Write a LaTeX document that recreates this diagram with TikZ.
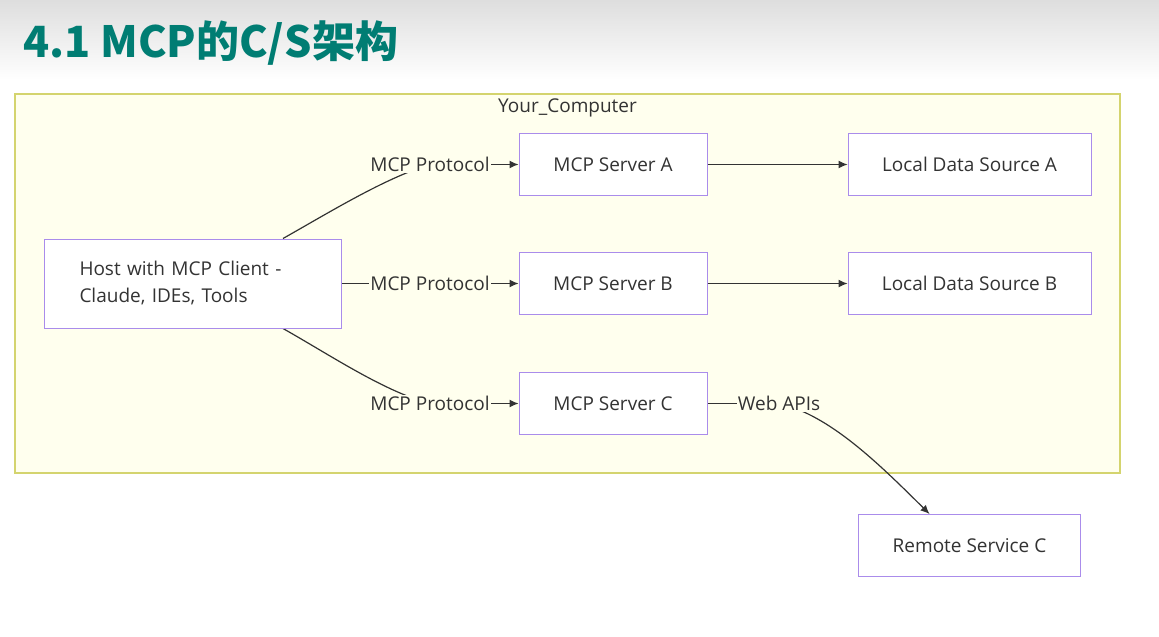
\documentclass[tikz,border=0pt]{standalone}
\usepackage{fontspec}
\setmainfont{Open Sans}
\newfontfamily\cjk{Noto Sans CJK SC}
\usetikzlibrary{positioning,calc,arrows.meta,backgrounds}

\definecolor{titleteal}{RGB}{0,125,115}
\definecolor{clusterfill}{RGB}{255,255,238}
\definecolor{clusterline}{RGB}{212,212,110}
\definecolor{boxline}{RGB}{170,140,235}
\definecolor{inkgray}{RGB}{51,51,51}

\tikzset{
  mbox/.style={draw=boxline, fill=white, line width=0.5pt, inner sep=0pt,
               minimum width=94pt, minimum height=31pt, text=inkgray,
               font=\fontsize{9.5}{13.5}\selectfont},
  lbl/.style={fill=clusterfill, inner sep=0.5pt, text=inkgray,
              font=\fontsize{9.5}{12}\selectfont},
  conn/.style={draw=inkgray, line width=0.6pt},
  arr/.style={conn, -{Latex[length=4.5pt,width=4pt]}},
}

\begin{document}
\begin{tikzpicture}[x=0.5pt, y=-0.5pt]

    \useasboundingbox (0,0) rectangle (1159,636);

    % Define nodes
    \node[mbox, minimum width=148.5pt, minimum height=44.5pt, text width=113pt, align=left]
                                             (host) at (192.5,283.5) {Host with MCP Client -\\Claude, IDEs, Tools};
    \node[mbox, right=88.5pt of host]        (srvB) {MCP Server B};
    \node[mbox, above=28pt of srvB]          (srvA) {MCP Server A};
    \node[mbox, below=28.5pt of srvB]        (srvC) {MCP Server C};
    \node[mbox, minimum width=121.5pt, right=70pt of srvA] (localA) {Local Data Source A};
    \node[mbox, minimum width=121.5pt, right=70pt of srvB] (localB) {Local Data Source B};
    \node[mbox, minimum width=111pt, below=99.5pt of localB] (remoteC) {Remote Service C};

    % Edge labels
    \node[lbl] (protoB) at ($(host.east)!0.5!(srvB.west)$) {MCP Protocol};
    \node[lbl] (protoA) at (protoB |- srvA) {MCP Protocol};
    \node[lbl] (protoC) at (protoB |- srvC) {MCP Protocol};
    \node[lbl, right=14.5pt of srvC]         (webapi) {Web APIs};

    \coordinate (hostTop) at ($(host.north)+(90.5,0)$);
    \coordinate (hostBot) at ($(host.south)+(90.5,0)$);
    \coordinate (remoteIn) at ($(remoteC.north)+(-40,0)$);

    \begin{pgfonlayer}{background}
      % Page and cluster
      \shade[top color=black!13, bottom color=white] (0,0) rectangle (1159,80);
      \draw[draw=clusterline, fill=clusterfill, line width=0.6pt] (15,94) rectangle (1120,473);
      \node[text=inkgray, font=\fontsize{9.5}{12}\selectfont] (cluster) at (567.5,108) {Your\_Computer};

      % Connect the nodes
      \draw[conn] (hostTop) .. controls (330,212) and (385,178) .. (protoA.center);
      \draw[conn] (host.east) -- (protoB.center);
      \draw[conn] (hostBot) .. controls (330,355) and (385,392) .. (protoC.center);
      \draw[conn] (srvC.east) -- (webapi.center);
      \draw[arr] (webapi.center) .. controls (830,415) and (880,465) .. (remoteIn);
    \end{pgfonlayer}

    \draw[arr] (protoA) -- (srvA);
    \draw[arr] (protoB) -- (srvB);
    \draw[arr] (protoC) -- (srvC);
    \draw[arr] (srvA) -- (localA);
    \draw[arr] (srvB) -- (localB);

    % Title
    \node[anchor=base west, text=titleteal, font=\cjk\bfseries\fontsize{21.5}{24}\selectfont]
                                             (title) at (16,58) {4.1 MCP的C/S架构};

\end{tikzpicture}
\end{document}
